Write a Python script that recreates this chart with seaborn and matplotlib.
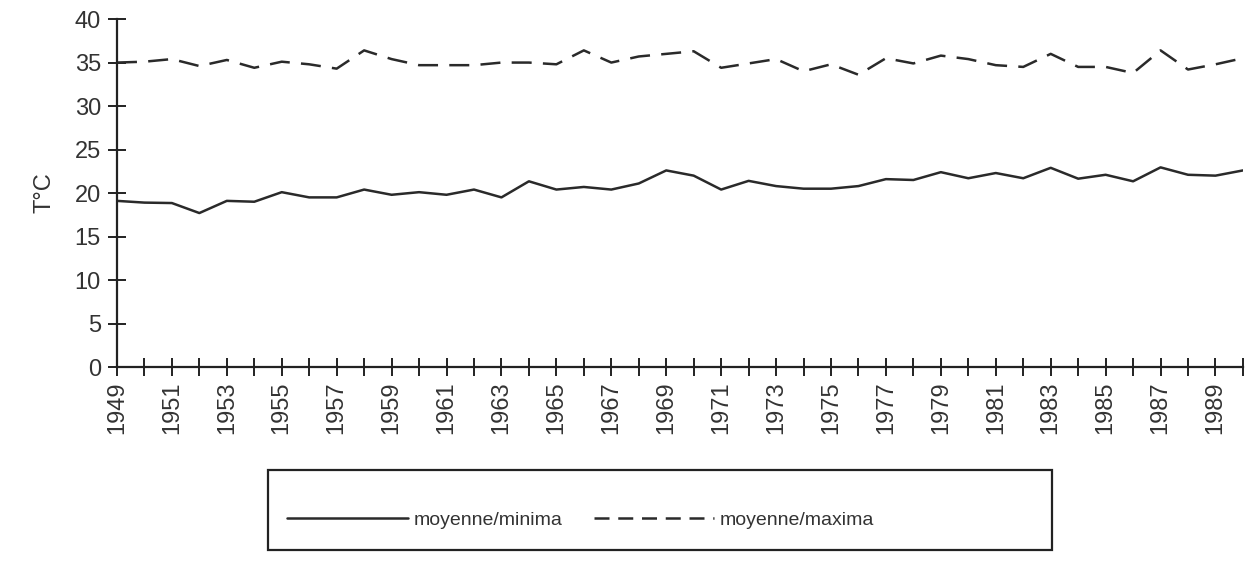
import matplotlib
matplotlib.use("Agg")
import matplotlib.pyplot as plt
from matplotlib.patches import Rectangle
import seaborn as sns
import pandas as pd

years = list(range(1949, 1991))
minima = [19.1, 18.9, 18.85, 17.7, 19.1, 19.0, 20.1, 19.5, 19.5, 20.4,
          19.8, 20.1, 19.8, 20.4, 19.5, 21.35, 20.4, 20.7, 20.4, 21.1,
          22.6, 22.0, 20.4, 21.4, 20.8, 20.5, 20.5, 20.8, 21.6, 21.5,
          22.4, 21.7, 22.3, 21.7, 22.9, 21.65, 22.1, 21.35, 22.95, 22.1,
          22.0, 22.6]
maxima = [35.0, 35.1, 35.4, 34.6, 35.3, 34.4, 35.1, 34.8, 34.3, 36.4,
          35.4, 34.7, 34.7, 34.7, 35.0, 35.0, 34.8, 36.4, 35.0, 35.7,
          36.0, 36.3, 34.4, 34.9, 35.4, 34.0, 34.8, 33.6, 35.5, 34.9,
          35.8, 35.4, 34.7, 34.5, 36.0, 34.5, 34.5, 33.8, 36.4, 34.2,
          34.8, 35.5]
series_names = ["moyenne/minima", "moyenne/maxima"]
y_ticks = [0, 5, 10, 15, 20, 25, 30, 35, 40]

df = pd.DataFrame({
    "year": years * 2,
    "temp": minima + maxima,
    "serie": [series_names[0]] * len(years) + [series_names[1]] * len(years),
})

sns.set_theme(style="white")
plt.rcParams["font.family"] = ["Liberation Sans", "DejaVu Sans"]
txt = "#333333"
line_c = "#2a2a2a"

fig = plt.figure(figsize=(12.55, 5.61), dpi=100)
ax = fig.add_axes([0.0932, 0.3458, 0.8972, 0.6202])

sns.lineplot(data=df, x="year", y="temp", style="serie", hue="serie",
             palette=[line_c, line_c],
             dashes={series_names[0]: "", series_names[1]: (8, 4.5)},
             linewidth=1.8, ax=ax, legend=False)

ax.set_xlim(1949, 1990)
ax.set_ylim(0, 40)
ax.set_yticks(y_ticks)
ax.set_yticklabels([str(v) for v in y_ticks], fontsize=17, color=txt)
ax.set_xticks(years)
ax.set_xticklabels([str(y) if (y - 1949) % 2 == 0 else "" for y in years],
                   rotation=90, fontsize=17, color=txt)
ax.tick_params(axis="both", direction="inout", length=13, width=1.4,
               color="#222222", bottom=True, left=True)
ax.tick_params(axis="y", pad=5)
ax.tick_params(axis="x", pad=4)
for s in ["top", "right"]:
    ax.spines[s].set_visible(False)
for s in ["left", "bottom"]:
    ax.spines[s].set_color("#222222")
    ax.spines[s].set_linewidth(1.6)
ax.set_xlabel("")
ax.set_ylabel("T°C", fontsize=17, color=txt, labelpad=14)
ax.grid(False)

# legend box
fig.patches.append(Rectangle((0.2135, 0.0196), 0.6247, 0.1426,
                             transform=fig.transFigure, fill=False,
                             edgecolor="#222222", linewidth=1.6))
h1, = ax.plot([], [], color=line_c, linewidth=1.8)
h2, = ax.plot([], [], color=line_c, linewidth=1.8, dashes=(6, 3.5))
leg = fig.legend([h1, h2], series_names, loc="center left",
                 bbox_to_anchor=(0.229, 0.073), ncol=2, fontsize=14,
                 handlelength=6.2, frameon=False, borderaxespad=0,
                 borderpad=0, columnspacing=1.6, handletextpad=0.3)
for t in leg.get_texts():
    t.set_color(txt)

fig.savefig("out.png", dpi=100, facecolor="white")
